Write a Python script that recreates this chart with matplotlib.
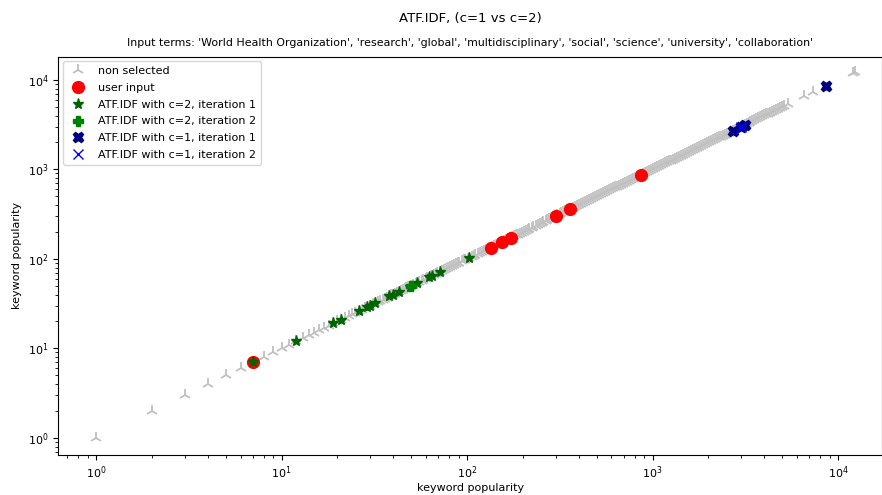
import matplotlib
matplotlib.use("Agg")
import matplotlib.pyplot as plt

# keyword popularity values (x == y)
non_selected = [1, 2, 3, 4, 5, 6, 7, 8, 9, 10, 11, 12, 13, 14, 15, 16, 17, 18, 19, 20,
                21, 22, 23, 24, 25, 26, 27, 28, 29, 30, 31, 32, 33, 34, 35, 36, 37, 38, 39,
                40, 41, 42, 43, 44, 45, 46, 47, 48, 49, 50, 51, 53, 54, 55, 57, 58, 60, 61, 63,
                64, 66, 68, 69, 71, 73, 75, 77, 79, 81, 83, 85, 87, 89, 91, 94, 96, 98, 101,
                103, 106, 109, 111, 114, 117, 120, 123, 126, 129, 132, 136, 139, 143, 146, 150,
                154, 158, 162, 166, 170, 174, 178, 183, 187, 192, 197, 202, 207, 212, 217, 223,
                228, 234, 240, 246, 252, 258, 265, 271, 278, 285, 292, 299, 307, 315, 322, 330,
                339, 347, 356, 365, 374, 383, 393, 403, 413, 423, 434, 445, 456, 467, 479, 491,
                503, 516, 529, 542, 555, 569, 584, 598, 613, 629, 644, 660, 677, 694, 711, 729,
                747, 766, 785, 805, 825, 846, 867, 889, 911, 934, 957, 981, 1006, 1031, 1057,
                1083, 1110, 1138, 1167, 1196, 1226, 1256, 1288, 1320, 1353, 1387, 1421, 1457,
                1493, 1531, 1569, 1608, 1648, 1690, 1732, 1775, 1820, 1865, 1912, 1960, 2009,
                2059, 2110, 2163, 2217, 2273, 2329, 2388, 2447, 2509, 2571, 2636, 2702, 2769,
                2838, 2909, 2982, 3057, 3133, 3211, 3292, 3374, 3458, 3545, 3633, 3724, 3817,
                3913, 4011, 4111, 4214, 4319, 4427, 4538, 4651, 4767, 4886, 5010, 5090, 5350,
                6530, 7300, 12000, 12400]
user_input = [7, 134, 155, 172, 301, 358, 864]
c2_iter1 = [7, 12, 19, 21, 26, 29, 30, 32, 38, 40, 43, 49, 54, 62, 65, 71, 103]
c2_iter2 = [50]
c1_iter1 = [2700, 2990, 3170, 8580]
c1_iter2 = [3000]

title = "ATF.IDF, (c=1 vs c=2)"
subtitle = ("Input terms: 'World Health Organization', 'research', 'global', "
            "'multidisciplinary', 'social', 'science', 'university', 'collaboration'")

fig = plt.figure(figsize=(8.82, 4.95), dpi=100)
ax = fig.add_axes([0.066, 0.081, 0.934, 0.804])

ax.plot(non_selected, non_selected, linestyle="none", marker="2", markersize=9,
        markeredgewidth=1.3, color="#c0c0c0", label="non selected")
ax.plot(user_input, user_input, linestyle="none", marker="o", markersize=8.5,
        color="red", label="user input")
ax.plot(c2_iter1, c2_iter1, linestyle="none", marker="*", markersize=8,
        color="darkgreen", label="ATF.IDF with c=2, iteration 1")
ax.plot(c2_iter2, c2_iter2, linestyle="none", marker="P", markersize=7.5,
        color="green", label="ATF.IDF with c=2, iteration 2")
ax.plot(c1_iter1, c1_iter1, linestyle="none", marker="X", markersize=7.5,
        color="navy", label="ATF.IDF with c=1, iteration 1")
ax.plot(c1_iter2, c1_iter2, linestyle="none", marker="x", markersize=7.5,
        color="blue", label="ATF.IDF with c=1, iteration 2")

ax.set_xscale("log")
ax.set_yscale("log")
ax.set_xlim(0.624, 17270)
ax.set_ylim(0.645, 18070)
ax.tick_params(labelsize=8)
ax.set_xlabel("keyword popularity", fontsize=8, labelpad=1)
ax.set_ylabel("keyword popularity", fontsize=8)
ax.set_title(subtitle, fontsize=7.9, pad=8)
fig.suptitle(title, fontsize=9.5, x=0.533, y=0.975)
ax.legend(loc="upper left", fontsize=8, framealpha=0.8, labelspacing=0.62,
          borderaxespad=0.4)

fig.savefig("out.png", dpi=100)
